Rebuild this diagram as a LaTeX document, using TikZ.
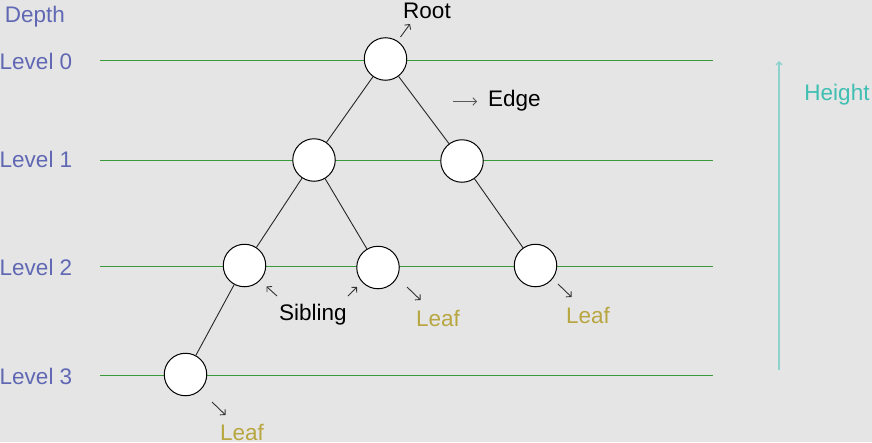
\documentclass[tikz,border=0pt]{standalone}
\usepackage{fontspec}
\setmainfont{Liberation Sans}
\usetikzlibrary{arrows.meta}
\definecolor{bg}{HTML}{E5E5E5}
\definecolor{lvl}{HTML}{6068B4}
\definecolor{leafc}{HTML}{B8A640}
\definecolor{grn}{HTML}{3A9A3A}
\definecolor{teal1}{HTML}{8ED2CE}
\definecolor{teal2}{HTML}{3FBEB2}
\tikzset{
  x=1pt, y=-1pt,
  tnode/.style={circle, draw=black, fill=white, line width=1pt, minimum size=42.5pt, inner sep=0pt},
  level/.style={line width=0.9pt, draw=grn},
  edge/.style={line width=0.9pt, draw=black!85},
  lbl/.style={font=\fontsize{22.5}{26}\selectfont, inner sep=0pt},
  lvltxt/.style={lbl, text=lvl},
  leaftxt/.style={lbl, text=leafc},
  pointer/.style={-{Straight Barb[length=3.5pt,width=7.5pt]}, line width=0.9pt, draw=black!80},
}
\begin{document}
\begin{tikzpicture}
\fill[bg] (0,0) rectangle (872,442);
\useasboundingbox (0,0) rectangle (872,442);
% level lines
\foreach \y/\n in {60/l0,160/l1,266/l2,375/l3}{
  \coordinate (\n a) at (100,\y);
  \coordinate (\n b) at (713,\y);
  \draw[level] (\n a) -- (\n b);
}
% level labels
\node[lvltxt] (depth) at (35,17) {Depth};
\node[lvltxt] (lev0) at (36,61) {Level 0};
\node[lvltxt] (lev1) at (36,159) {Level 1};
\node[lvltxt] (lev2) at (36,267) {Level 2};
\node[lvltxt] (lev3) at (36,376) {Level 3};
% tree nodes
\node[tnode] (root) at (385.5,59) {};
\node[tnode] (a) at (314,160) {};
\node[tnode] (b) at (462,161) {};
\node[tnode] (c) at (244.5,265.5) {};
\node[tnode] (d) at (378,267.5) {};
\node[tnode] (e) at (535.5,265.5) {};
\node[tnode] (f) at (185.5,374.5) {};
% edges
\draw[edge] (root) -- (a);
\draw[edge] (root) -- (b);
\draw[edge] (a) -- (c);
\draw[edge] (a) -- (d);
\draw[edge] (b) -- (e);
\draw[edge] (c) -- (f);
% root label
\node[lbl] (roottxt) at (427,11) {Root};
\coordinate (rp1) at (400.5,37);
\coordinate (rp2) at (410,24);
\draw[pointer] (rp1) -- (rp2);
% edge label
\node[lbl, anchor=west] (edgetxt) at (488,101) {Edge};
\coordinate (ep1) at (453,101.5);
\coordinate (ep2) at (477,101.5);
\draw[pointer, draw=black!65] (ep1) -- (ep2);
% sibling
\node[lbl] (sib) at (313,315) {Sibling};
\coordinate (s1a) at (277,296);
\coordinate (s1b) at (266.5,286.5);
\draw[pointer] (s1a) -- (s1b);
\coordinate (s2a) at (348,296);
\coordinate (s2b) at (357,287);
\draw[pointer] (s2a) -- (s2b);
% leaves
\node[leaftxt] (leaf1) at (438,318) {Leaf};
\coordinate (l1a) at (407,287);
\coordinate (l1b) at (420.5,300);
\draw[pointer] (l1a) -- (l1b);
\node[leaftxt] (leaf2) at (588,315) {Leaf};
\coordinate (l2a) at (558,284);
\coordinate (l2b) at (571.5,297);
\draw[pointer] (l2a) -- (l2b);
\node[leaftxt] (leaf3) at (242,432) {Leaf};
\coordinate (l3a) at (212,402);
\coordinate (l3b) at (225.5,415);
\draw[pointer] (l3a) -- (l3b);
% height
\coordinate (h1) at (779,370);
\coordinate (h2) at (779,61);
\draw[-{Straight Barb[length=3pt,width=6pt]}, line width=1.3pt, draw=teal1] (h1) -- (h2);
\node[lbl, text=teal2] (height) at (837,95) {Height};
\end{tikzpicture}
\end{document}
